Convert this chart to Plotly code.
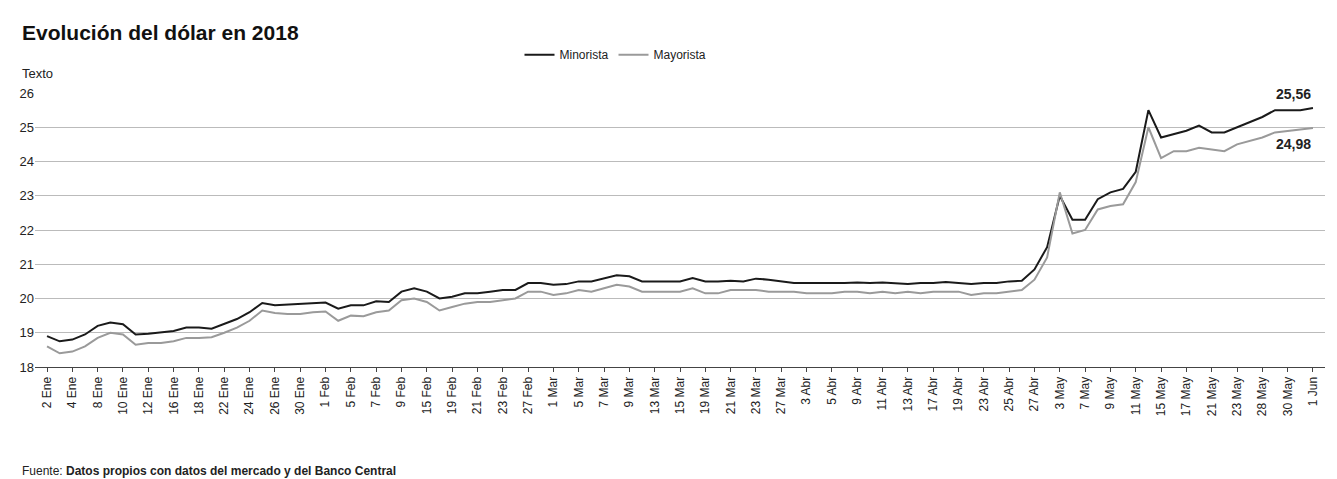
import plotly.graph_objects as go

dates = [
    "2 Ene", "3 Ene", "4 Ene", "5 Ene", "8 Ene", "9 Ene", "10 Ene", "11 Ene", "12 Ene", "15 Ene",
    "16 Ene", "17 Ene", "18 Ene", "19 Ene", "22 Ene", "23 Ene", "24 Ene", "25 Ene", "26 Ene", "29 Ene",
    "30 Ene", "31 Ene", "1 Feb", "2 Feb", "5 Feb", "6 Feb", "7 Feb", "8 Feb", "9 Feb", "14 Feb",
    "15 Feb", "16 Feb", "19 Feb", "20 Feb", "21 Feb", "22 Feb", "23 Feb", "26 Feb", "27 Feb", "28 Feb",
    "1 Mar", "2 Mar", "5 Mar", "6 Mar", "7 Mar", "8 Mar", "9 Mar", "12 Mar", "13 Mar", "14 Mar",
    "15 Mar", "16 Mar", "19 Mar", "20 Mar", "21 Mar", "22 Mar", "23 Mar", "26 Mar", "27 Mar", "28 Mar",
    "3 Abr", "4 Abr", "5 Abr", "6 Abr", "9 Abr", "10 Abr", "11 Abr", "12 Abr", "13 Abr", "16 Abr",
    "17 Abr", "18 Abr", "19 Abr", "20 Abr", "23 Abr", "24 Abr", "25 Abr", "26 Abr", "27 Abr", "2 May",
    "3 May", "4 May", "7 May", "8 May", "9 May", "10 May", "11 May", "14 May", "15 May", "16 May",
    "17 May", "18 May", "21 May", "22 May", "23 May", "24 May", "28 May", "29 May", "30 May", "31 May",
    "1 Jun",
]

minorista = [
    18.9, 18.75, 18.8, 18.95, 19.2, 19.3, 19.25, 18.95, 18.97, 19.0,
    19.05, 19.15, 19.15, 19.12, 19.25, 19.4, 19.6, 19.87, 19.8, 19.82,
    19.83, 19.85, 19.88, 19.7, 19.8, 19.8, 19.92, 19.9, 20.2, 20.3,
    20.2, 20.0, 20.05, 20.15, 20.15, 20.2, 20.25, 20.25, 20.45, 20.45,
    20.4, 20.42, 20.5, 20.5, 20.6, 20.68, 20.65, 20.5, 20.5, 20.5,
    20.5, 20.6, 20.5, 20.5, 20.52, 20.5, 20.58, 20.55, 20.5, 20.45,
    20.45, 20.45, 20.43, 20.45, 20.47, 20.45, 20.47, 20.45, 20.42, 20.45,
    20.45, 20.48, 20.45, 20.42, 20.45, 20.45, 20.5, 20.52,
    20.85, 21.5, 23.0, 22.3, 22.3, 22.9, 23.1, 23.2, 23.7, 25.5,
    24.7, 24.8, 24.9, 25.05, 24.85, 24.85, 25.0, 25.15, 25.3, 25.5,
    25.5, 25.5, 25.56,
]

mayorista = [
    18.6, 18.4, 18.45, 18.6, 18.85, 19.0, 18.95, 18.65, 18.7, 18.7,
    18.75, 18.85, 18.85, 18.87, 19.0, 19.15, 19.35, 19.65, 19.58, 19.55,
    19.55, 19.6, 19.62, 19.35, 19.5, 19.48, 19.6, 19.65, 19.95, 20.0,
    19.9, 19.65, 19.75, 19.85, 19.9, 19.9, 19.95, 20.0, 20.2, 20.2,
    20.1, 20.15, 20.25, 20.2, 20.3, 20.4, 20.35, 20.2, 20.2, 20.2,
    20.2, 20.3, 20.15, 20.15, 20.25, 20.25, 20.25, 20.2, 20.2, 20.2,
    20.15, 20.15, 20.15, 20.2, 20.2, 20.15, 20.2, 20.15, 20.2, 20.15,
    20.2, 20.2, 20.2, 20.1, 20.15, 20.15, 20.2, 20.25,
    20.55, 21.2, 23.1, 21.9, 22.0, 22.6, 22.7, 22.75, 23.4, 25.0,
    24.1, 24.3, 24.3, 24.4, 24.35, 24.3, 24.5, 24.6, 24.7, 24.85,
    24.9, 24.95, 24.98,
]

tick_labels = dates[::2]

FONT = "Liberation Sans Narrow, Arial Narrow, Liberation Sans, sans-serif"

fig = go.Figure()
fig.add_trace(go.Scatter(x=dates, y=minorista, name="Minorista", mode="lines",
                         line=dict(color="#1a1a1a", width=2)))
fig.add_trace(go.Scatter(x=dates, y=mayorista, name="Mayorista", mode="lines",
                         line=dict(color="#9a9a9a", width=2)))

fig.update_layout(
    width=1337, height=479,
    paper_bgcolor="white", plot_bgcolor="white",
    margin=dict(l=27, r=20, t=85, b=120),
    font=dict(family=FONT, size=12, color="#222"),
    showlegend=True,
    legend=dict(orientation="h", x=0.45, xanchor="center", y=1.14, yanchor="middle",
                font=dict(size=12)),
    xaxis=dict(type="category", range=[-0.95, 100.95], tickmode="array",
               tickvals=tick_labels, ticktext=tick_labels, tickangle=-90,
               showgrid=False, ticks="outside", ticklen=4, tickcolor="#444",
               showline=True, linecolor="#444", tickfont=dict(size=12)),
    yaxis=dict(range=[18, 26], dtick=1, showgrid=True, gridcolor="#bbbbbb",
               zeroline=False, tickfont=dict(size=13)),
    shapes=[dict(type="rect", xref="paper", yref="paper", x0=-0.05, x1=1.05,
                 y0=1.32, y1=1.4, fillcolor="#222", line_width=0)],
    annotations=[
        dict(text="<b>Evolución del dólar en 2018</b>", xref="paper", yref="paper",
             x=-0.012, y=1.22, xanchor="left", yanchor="middle", showarrow=False,
             font=dict(size=21, color="#111")),
        dict(text="Texto", xref="paper", yref="paper", x=-0.012, y=1.07,
             xanchor="left", yanchor="middle", showarrow=False, font=dict(size=13)),
        dict(text="Fuente: <b>Datos propios con datos del mercado y del Banco Central</b>",
             xref="paper", yref="paper", x=-0.012, y=-0.38, xanchor="left",
             yanchor="middle", showarrow=False, font=dict(size=12)),
        dict(text="<b>25,56</b>", x=dates[-1], y=minorista[-1], xanchor="right",
             yanchor="bottom", yshift=4, showarrow=False, font=dict(size=14)),
        dict(text="<b>24,98</b>", x=dates[-1], y=mayorista[-1], xanchor="right",
             yanchor="top", yshift=-6, showarrow=False, font=dict(size=14)),
    ],
)

fig.write_html("out.html")
